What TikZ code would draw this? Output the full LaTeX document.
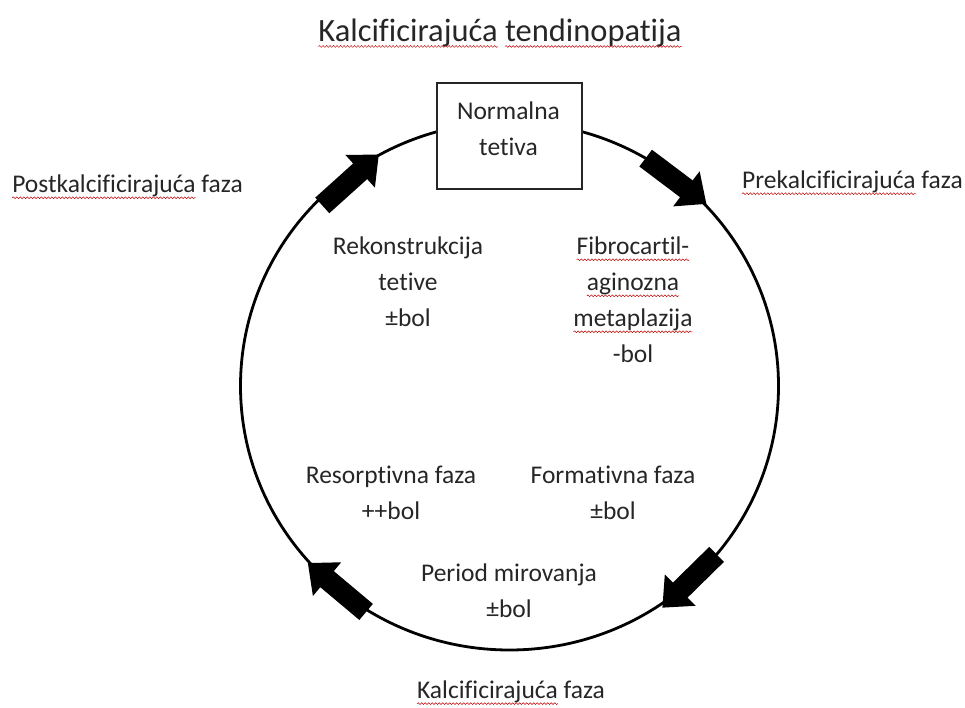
\documentclass[tikz,border=0pt]{standalone}
\usepackage{fontspec}
\setmainfont{Carlito}[Ligatures={NoCommon}]
\usetikzlibrary{decorations.pathmorphing}
\tikzset{
  sqline/.style={red!75!black, line width=0.5pt, decorate, decoration={snake, amplitude=0.9pt, segment length=3.5pt}},
  lbl/.style={inner sep=0pt, outer sep=0pt, align=center, font=\fontsize{25.5}{36}\selectfont, text=black!85},
  ring/.style={line width=2.8pt, black},
  stagebox/.style={draw=black!85, line width=1.2pt, fill=white, minimum width=145pt, minimum height=106pt, inner sep=0pt},
  barrow/.pic={\fill[black] (-38,-10.5) -- (13,-10.5) -- (13,-22) -- (38,0) -- (13,22) -- (13,10.5) -- (-38,10.5) -- cycle;}
}
\newcommand{\sqw}[1]{\tikz[baseline=(sqwn.base)]{\node[inner sep=0pt,outer sep=0pt](sqwn){#1};\draw[overlay,sqline]([yshift=-5pt]sqwn.base west)--([yshift=-5pt]sqwn.base east);}}
\begin{document}
\begin{tikzpicture}[x=1pt,y=1pt]
\useasboundingbox (0,0) rectangle (965,707);
\coordinate (c) at (509.5,321);
\draw[ring] (c) ellipse [x radius=269, y radius=264];
% arrows
\coordinate (q1) at (350.5,527);
\coordinate (q2) at (676,526);
\coordinate (q3) at (689.5,126);
\coordinate (q4) at (337,119.5);
\pic[rotate=42] at (q1) {barrow};
\pic[rotate=-37] at (q2) {barrow};
\pic[rotate=-135.5] at (q3) {barrow};
\pic[rotate=140] at (q4) {barrow};
% box
\node[stagebox] (box) at (509.5,571) {};
\node[lbl] (boxtxt) at (508.5,578) {Normalna\\tetiva};
% title
\node[lbl, font=\fontsize{32.5}{38}\selectfont] (title) at (500,674) {\sqw{Kalcificirajuća} \sqw{tendinopatija}};
\node[lbl] (post) at (127.5,521) {\sqw{Postkalcificirajuća} faza};
\node[lbl] (pre) at (852.5,525) {\sqw{Prekalcificirajuća} faza};
\node[lbl] (rek) at (408,425) {Rekonstrukcija\\tetive\\±bol};
\node[lbl] (fib) at (633,407) {\sqw{Fibrocartil-}\\\sqw{aginozna}\\\sqw{metaplazija}\\-bol};
\node[lbl] (res) at (391,214.5) {Resorptivna faza\\++bol};
\node[lbl] (form) at (613,214.5) {Formativna faza\\±bol};
\node[lbl] (per) at (509,116) {Period mirovanja\\±bol};
\node[lbl] (kal) at (511,15) {\sqw{Kalcificirajuća} faza};
\end{tikzpicture}
\end{document}
